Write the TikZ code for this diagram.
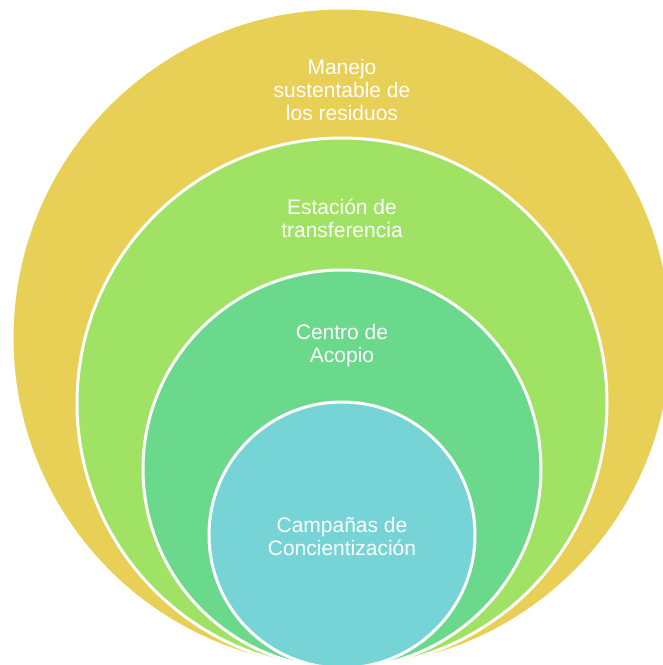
\documentclass[tikz,border=0pt]{standalone}
\usepackage{fontspec}
\setmainfont{Liberation Sans}
\definecolor{manejo}{HTML}{E8CF55}
\definecolor{estacion}{HTML}{9FE264}
\definecolor{centro}{HTML}{6BD98B}
\definecolor{campana}{HTML}{76D4D6}
\tikzset{
  ring/.style={circle, draw=white, line width=3pt, inner sep=0pt},
  lbl/.style={text=white, align=center, font=\fontsize{21}{23}\selectfont}
}
\begin{document}
\begin{tikzpicture}[x=1pt, y=-1pt]
\useasboundingbox (0,0) rectangle (663,665);
\clip (0,0) rectangle (663,665);
\node[ring, fill=manejo, minimum size=660pt] (manejo) at (342,338) {};
\node[ring, fill=estacion, minimum size=530pt] (estacion) at (342,403) {};
\node[ring, fill=centro, minimum size=398pt] (centro) at (342,469) {};
\node[ring, fill=campana, minimum size=266pt] (campana) at (342,535) {};
\node[lbl] (tmanejo) at (342,90) {Manejo\\sustentable de\\los residuos};
\node[lbl] (testacion) at (342,218) {Estación de\\transferencia};
\node[lbl] (tcentro) at (342,346) {Centro de\\Acopio};
\node[lbl] (tcampana) at (342,536) {Campañas de\\Concientización};
\end{tikzpicture}
\end{document}
